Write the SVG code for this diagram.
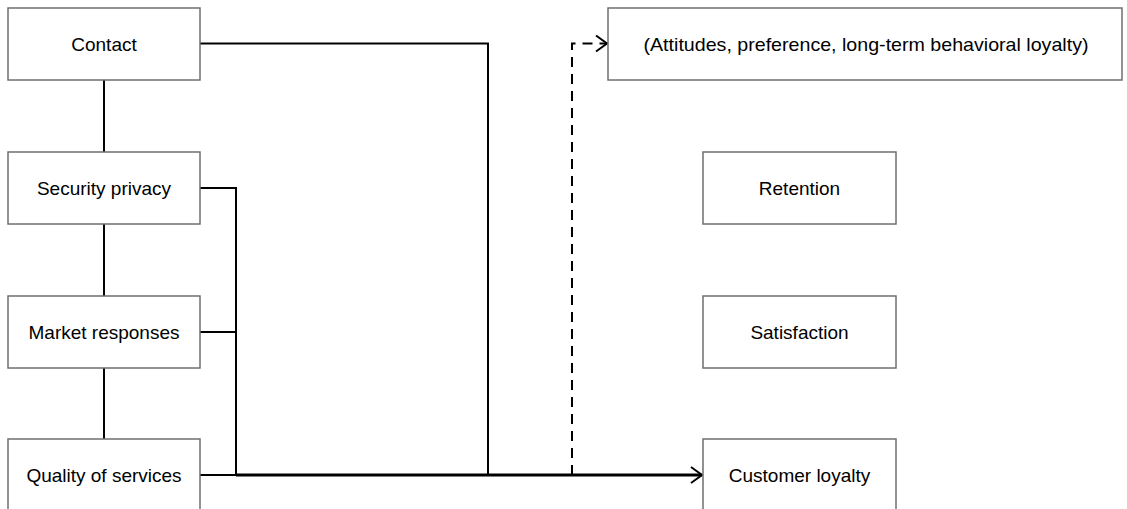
<svg xmlns="http://www.w3.org/2000/svg" width="1127" height="509" viewBox="0 0 1127 509">
<defs>
<style>
.box{fill:#fff;stroke:#6f6f6f;stroke-width:1.5}
.lbl{font-family:"Liberation Sans",Arial,sans-serif;font-size:19px;fill:#000;text-anchor:middle;dominant-baseline:central}
.ln{fill:none;stroke:#000;stroke-width:2}
.main{fill:none;stroke:#000;stroke-width:3}
.dash{fill:none;stroke:#000;stroke-width:2;stroke-dasharray:10,7}
</style>
<marker id="arr" markerWidth="14" markerHeight="18" refX="12" refY="9" orient="auto" markerUnits="userSpaceOnUse">
<path d="M1,1 L12,9 L1,17" fill="none" stroke="#000" stroke-width="2"/>
</marker>
</defs>
<rect width="1127" height="509" fill="#fff"/>
<g id="connectors">
<line class="ln" x1="104" y1="80" x2="104" y2="152"/>
<line class="ln" x1="104" y1="224" x2="104" y2="296"/>
<line class="ln" x1="104" y1="368" x2="104" y2="439"/>
<polyline class="ln" points="200,43.5 488,43.5 488,475"/>
<polyline class="ln" points="200,188 236,188 236,475"/>
<line class="ln" x1="200" y1="332" x2="236" y2="332"/>
<line class="ln" x1="200" y1="475" x2="236" y2="475"/>
<line class="main" x1="236" y1="475" x2="702" y2="475" marker-end="url(#arr)"/>
<polyline class="dash" points="572,475 572,43.5 607,43.5" marker-end="url(#arr)"/>
</g>
<g id="contact"><rect class="box" x="8" y="8" width="192" height="72"/><text class="lbl" x="104" y="44">Contact</text></g>
<g id="security"><rect class="box" x="8" y="152" width="192" height="72"/><text class="lbl" x="104" y="188">Security privacy</text></g>
<g id="market"><rect class="box" x="8" y="296" width="192" height="72"/><text class="lbl" x="104" y="332">Market responses</text></g>
<g id="quality"><rect class="box" x="8" y="439" width="192" height="72"/><text class="lbl" x="104" y="475">Quality of services</text></g>
<g id="attitudes"><rect class="box" x="608" y="8" width="514" height="72"/><text class="lbl" x="866" y="44" textLength="445" lengthAdjust="spacingAndGlyphs">(Attitudes, preference, long-term behavioral loyalty)</text></g>
<g id="retention"><rect class="box" x="703" y="152" width="193" height="72"/><text class="lbl" x="799.5" y="188">Retention</text></g>
<g id="satisfaction"><rect class="box" x="703" y="296" width="193" height="72"/><text class="lbl" x="799.5" y="332">Satisfaction</text></g>
<g id="loyalty"><rect class="box" x="703" y="439" width="193" height="72"/><text class="lbl" x="799.5" y="475">Customer loyalty</text></g>
</svg>
